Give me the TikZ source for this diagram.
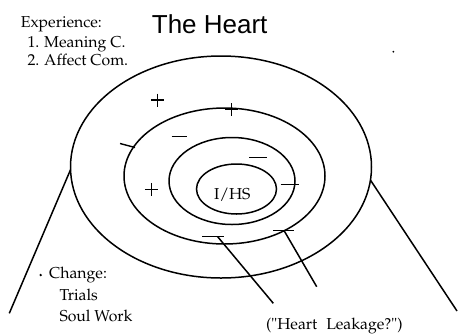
\documentclass[tikz,border=0pt]{standalone}
\usepackage[T1]{fontenc}
\usepackage{fontspec}
\usetikzlibrary{shapes.geometric}
\newfontfamily\titlefont{Liberation Sans}
\newcommand\notefont{\fontencoding{T1}\fontfamily{ppl}\fontsize{15.8}{19}\selectfont}
\tikzset{
  ring/.style={draw, ellipse, inner sep=0pt, outer sep=0pt, line width=1.5pt},
  wire/.style={line width=1.5pt},
  sign/.style={line width=1.4pt},
  note/.style={anchor=base west, inner sep=0pt, font=\notefont},
  heading/.style={anchor=base west, inner sep=0pt, font=\titlefont\fontsize{26}{30}\selectfont},
  pics/plus/.style={code={\draw[sign] (-6.5,0) -- (6.5,0) (0,-6.5) -- (0,6.5);}}
}

\begin{document}
\begin{tikzpicture}[x=1pt, y=-1pt]
  \useasboundingbox (0,0) rectangle (460,333);
  % rings of the heart
  \node[ring, minimum width=301pt, minimum height=222pt] (outer) at (221,167) {};
  \node[ring, minimum width=201pt, minimum height=136pt] (second) at (224.5,176) {};
  \node[ring, minimum width=126pt, minimum height=87pt] (third) at (232,181) {};
  \node[ring, minimum width=80pt, minimum height=50pt] (core) at (236.5,189) {};
  \node[note] (ihs) at (214,199.3) {I/HS};
  % signs
  \pic at (157.3,100) {plus};
  \pic at (231.5,109.5) {plus};
  \pic at (151.3,189.3) {plus};
  \draw[sign] (171.7,136.7) -- (187.3,136.7);
  \draw[sign] (120,143.5) -- (135,147.5);
  \draw[sign] (249.3,157.3) -- (266.7,157.3);
  \draw[sign] (280.7,184.3) -- (299.3,184.3);
  \draw[sign] (202.3,236.3) -- (224,236.3);
  \draw[sign] (273.3,230.3) -- (294,230.3);
  % leakage lines
  \coordinate (leakA) at (217.5,236.5);
  \coordinate (leakAend) at (273.3,303.3);
  \coordinate (leakB) at (284,230.5);
  \coordinate (leakBend) at (316.7,286.7);
  \draw[wire] (leakA) -- (leakAend);
  \draw[wire] (leakB) -- (leakBend);
  % side lines
  \coordinate (leftend) at (9.3,313.3);
  \coordinate (rightend) at (457,311);
  \draw[wire] (outer.181) -- (leftend);
  \draw[wire] (outer.-5) -- (rightend);
  % texts
  \node[heading] (title) at (151.7,33.3) {The Heart};
  \node[note] (exphead) at (20.7,27.3) {Experience:};
  \node[note] (exp1) at (27.3,47.7) {1. Meaning C.};
  \node[note] (exp2) at (27.3,65.7) {2. Affect Com.};
  \fill (40.7,275) circle (1.3);
  \node[note] (chghead) at (49,278.3) {Change:};
  \node[note] (chg1) at (59.3,300) {Trials};
  \node[note] (chg2) at (59.3,321.7) {Soul Work};
  \node[note] (leak) at (266,329.5) {("Heart\hspace{5pt} Leakage?")};
  \fill (393.3,51.7) circle (1);
\end{tikzpicture}
\end{document}
